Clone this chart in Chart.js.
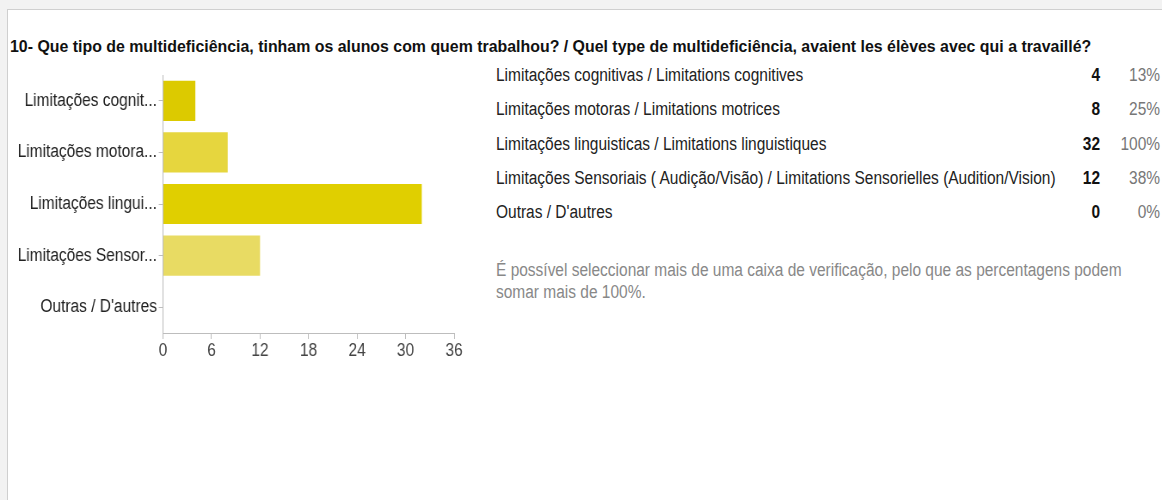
<!DOCTYPE html>
<html>
<head>
<meta charset="utf-8">
<script src="https://cdn.jsdelivr.net/npm/chart.js@4"></script>
<style>
  body { margin: 0; background: #f2f2f2; width: 1162px; height: 500px; overflow: hidden; position: relative; font-family: "Liberation Sans", Arial, sans-serif; }
  .card { position: absolute; left: 7px; top: 9px; width: 1200px; height: 520px; background: #fff; border-left: 1px solid #cfcfcf; border-top: 1px solid #cfcfcf; }
  .t { position: absolute; white-space: nowrap; line-height: 20px; font-size: 18px; color: #222; transform: scaleX(0.86); transform-origin: left center; }
  .t.r { transform-origin: right center; text-align: right; }
  .title { left: 10px; top: 37px; font-weight: bold; font-size: 17px; color: #111; transform: scaleX(0.935); }
  .n { font-weight: bold; color: #111; right: 62px; }
  .p { color: #777; right: 2px; }
  .note { left: 496px; top: 259px; width: 744px; white-space: normal; line-height: 22px; color: #888; }
  .wrap { position: absolute; left: 0; top: 60px; width: 547px; height: 320px; transform: scaleX(0.86); transform-origin: left top; }
</style>
</head>
<body>
<div class="card"></div>
<div class="t title">10- Que tipo de multideficiência, tinham os alunos com quem trabalhou? / Quel type de multideficiência, avaient les élèves avec qui a travaillé?</div>
<div class="wrap"><canvas id="c"></canvas></div>
<div id="rows"></div>
<div class="t note">É possível seleccionar mais de uma caixa de verificação, pelo que as percentagens podem somar mais de 100%.</div>
<script>
// dados do gráfico
const shortLabels = ['Limitações cognit...', 'Limitações motora...', 'Limitações lingui...', 'Limitações Sensor...', 'Outras / D\'autres'];
const fullLabels = [
  'Limitações cognitivas / Limitations cognitives',
  'Limitações motoras / Limitations motrices',
  'Limitações linguisticas / Limitations linguistiques',
  'Limitações Sensoriais ( Audição/Visão) / Limitations Sensorielles (Audition/Vision)',
  'Outras / D\'autres'
];
const counts = [4, 8, 32, 12, 0];
const percents = ['13%', '25%', '100%', '38%', '0%'];
const xTicks = [0, 6, 12, 18, 24, 30, 36];
const barColors = ['#dcca00', '#e6d63e', '#e0cf00', '#e8db63', '#e0cf00'];

// o texto do ecrã original está comprimido na horizontal
const SX = 0.86;

// tabela à direita
const rows = document.getElementById('rows');
fullLabels.forEach((lab, i) => {
  const top = 65 + i * 34.25;
  rows.insertAdjacentHTML('beforeend',
    '<div class="t" style="left:496px;top:' + top + 'px">' + lab + '</div>' +
    '<div class="t r n" style="top:' + top + 'px">' + counts[i] + '</div>' +
    '<div class="t r p" style="top:' + top + 'px">' + percents[i] + '</div>');
});

Chart.defaults.font.family = '"Liberation Sans", Arial, sans-serif';

new Chart(document.getElementById('c'), {
  type: 'bar',
  data: {
    labels: shortLabels,
    datasets: [{
      data: counts,
      backgroundColor: barColors,
      borderWidth: 0,
      barPercentage: 0.78,
      categoryPercentage: 1
    }]
  },
  options: {
    indexAxis: 'y',
    responsive: true,
    maintainAspectRatio: false,
    animation: false,
    layout: { padding: { top: 15, right: 19, left: 0, bottom: 0 } },
    plugins: { legend: { display: false }, tooltip: { enabled: false } },
    scales: {
      x: {
        min: 0, max: 36,
        afterBuildTicks: s => { s.ticks = xTicks.map(v => ({ value: v })); },
        afterFit: s => { s.height = 47; },
        grid: { drawOnChartArea: false, tickLength: 6, color: '#bdbdbd' },
        border: { color: '#bdbdbd' },
        ticks: { color: '#444', font: { size: 18 }, padding: 1, maxRotation: 0 }
      },
      y: {
        afterFit: s => { s.width = 163 / SX; },
        grid: { drawOnChartArea: false, tickLength: 5, color: '#bdbdbd', offset: false },
        border: { color: '#bdbdbd' },
        ticks: { color: '#222', font: { size: 18 }, padding: 2 }
      }
    }
  }
});
</script>
</body>
</html>
